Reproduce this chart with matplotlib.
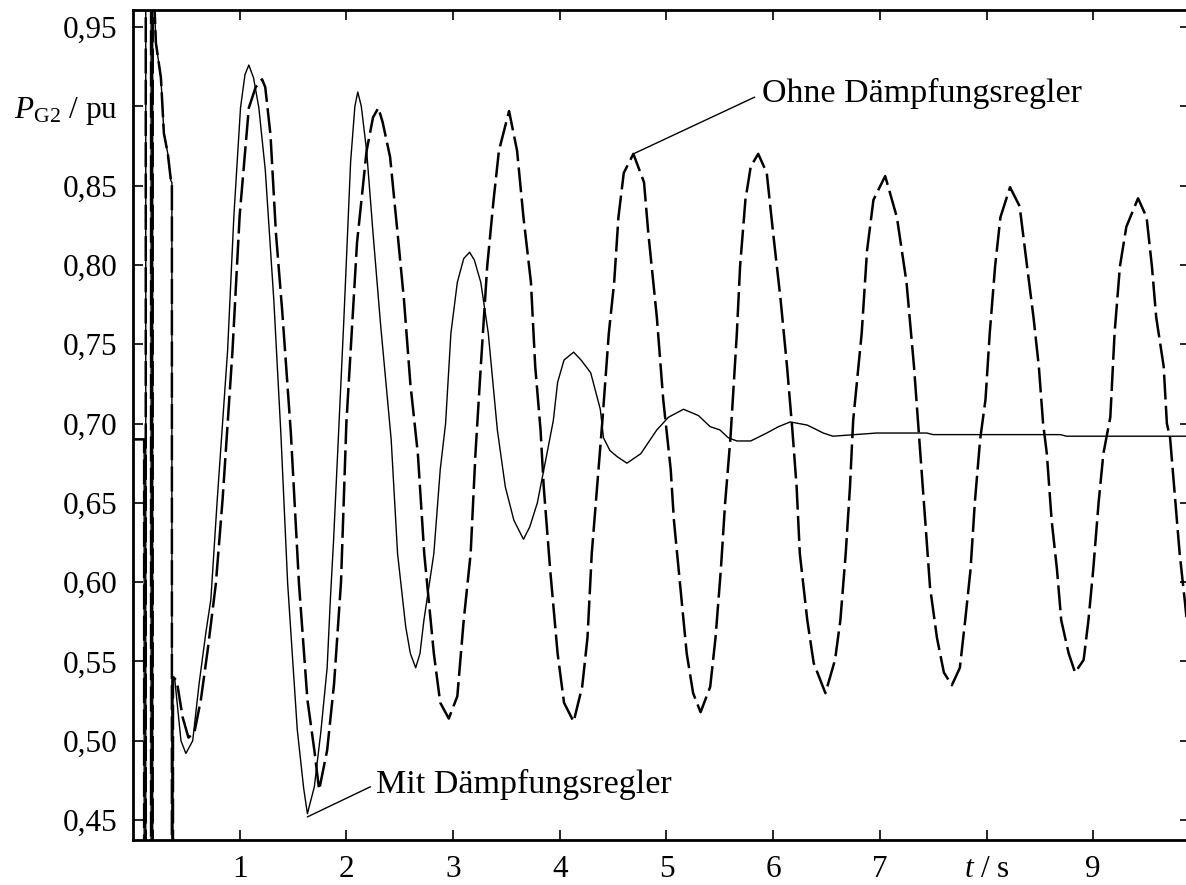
import matplotlib
matplotlib.use('Agg')
import matplotlib.pyplot as plt

plt.rcParams['font.family'] = 'Liberation Serif'
plt.rcParams['mathtext.fontset'] = 'custom'
plt.rcParams['mathtext.rm'] = 'Liberation Serif'
plt.rcParams['mathtext.it'] = 'Liberation Serif:italic'

# ---------------- Daten ----------------
# Fehlerphase (beide Varianten identisch), Werte ausserhalb des Bereichs = Ausschlag
t_fehler = [0.0, 0.10, 0.105, 0.105, 0.12, 0.12, 0.17, 0.17, 0.185, 0.185,
            0.195, 0.215, 0.262, 0.29, 0.327, 0.356, 0.365, 0.365, 0.375, 0.375]
p_fehler = [0.69, 0.69, 0.69, 0.30, 0.30, 1.30, 1.30, 0.30, 0.30, 1.00,
            0.975, 0.94, 0.918, 0.883, 0.87, 0.853, 0.852, 0.30, 0.30, 0.54]

# mit Daempfungsregler
t_mit = [0.39, 0.45, 0.496, 0.56, 0.62, 0.683, 0.73, 0.79, 0.887, 0.946, 1.008, 1.05, 1.086,
         1.13, 1.18, 1.24, 1.32, 1.386, 1.45, 1.54, 1.60, 1.635, 1.70, 1.76, 1.82, 1.85,
         1.88, 1.975, 2.04, 2.08, 2.107, 2.14, 2.19, 2.25, 2.32, 2.42, 2.48, 2.556, 2.60,
         2.65, 2.69, 2.727, 2.82, 2.88, 2.93, 2.98, 3.04, 3.10, 3.155, 3.20, 3.26, 3.33,
         3.415, 3.49, 3.57, 3.66, 3.72, 3.79, 3.88, 3.94, 3.98, 4.04, 4.13, 4.20, 4.29,
         4.38, 4.41, 4.47, 4.54, 4.63, 4.76, 4.91, 5.02, 5.16, 5.30, 5.41, 5.50, 5.58,
         5.66, 5.79, 5.94, 6.05, 6.16, 6.32, 6.47, 6.56, 6.97, 7.44, 7.50, 8.69, 8.75,
         9.41, 9.90]
p_mit = [0.54, 0.50, 0.492, 0.50, 0.536, 0.568, 0.589, 0.652, 0.746, 0.831, 0.899, 0.92, 0.926,
         0.918, 0.899, 0.86, 0.778, 0.694, 0.599, 0.507, 0.47, 0.454, 0.471, 0.505, 0.546, 0.589,
         0.626, 0.763, 0.865, 0.90, 0.909, 0.90, 0.872, 0.82, 0.763, 0.69, 0.618, 0.572, 0.555,
         0.546, 0.555, 0.576, 0.618, 0.671, 0.70, 0.757, 0.789, 0.804, 0.808, 0.803, 0.789, 0.757,
         0.696, 0.66, 0.639, 0.627, 0.635, 0.65, 0.681, 0.702, 0.726, 0.74, 0.745, 0.74, 0.732,
         0.709, 0.691, 0.683, 0.679, 0.675, 0.681, 0.696, 0.704, 0.709, 0.705, 0.698, 0.696, 0.691,
         0.689, 0.689, 0.694, 0.698, 0.701, 0.699, 0.694, 0.692, 0.694, 0.694, 0.693, 0.693, 0.692,
         0.692, 0.692]

# ohne Daempfungsregler
t_ohne = [0.41, 0.465, 0.52, 0.575, 0.637, 0.70, 0.777, 0.84, 0.933, 1.00, 1.086, 1.15, 1.21,
          1.24, 1.289, 1.34, 1.40, 1.48, 1.556, 1.635, 1.70, 1.745, 1.82, 1.885, 1.95, 2.00,
          2.10, 2.19, 2.25, 2.30, 2.34, 2.41, 2.48, 2.54, 2.60, 2.67, 2.73, 2.82, 2.88, 2.96,
          3.04, 3.10, 3.165, 3.21, 3.26, 3.32, 3.38, 3.43, 3.525, 3.60, 3.66, 3.73, 3.77,
          3.82, 3.85, 3.91, 3.98, 4.04, 4.13, 4.21, 4.26, 4.30, 4.35, 4.40, 4.46, 4.51, 4.55,
          4.60, 4.69, 4.79, 4.83, 4.91, 4.97, 5.04, 5.07, 5.13, 5.19, 5.25, 5.32, 5.41, 5.46,
          5.51, 5.55, 5.60, 5.66, 5.69, 5.74, 5.79, 5.86, 5.94, 6.00, 6.07, 6.13, 6.18, 6.22,
          6.25, 6.32, 6.38, 6.49, 6.58, 6.63, 6.68, 6.72, 6.75, 6.83, 6.88, 6.94, 7.05, 7.16,
          7.25, 7.32, 7.38, 7.425, 7.47, 7.535, 7.60, 7.675, 7.75, 7.80, 7.85, 7.89, 7.94,
          7.99, 8.03, 8.08, 8.13, 8.22, 8.31, 8.38, 8.44, 8.49, 8.53, 8.565, 8.61, 8.66, 8.70,
          8.77, 8.83, 8.91, 8.955, 9.00, 9.05, 9.095, 9.16, 9.20, 9.25, 9.31, 9.42, 9.50, 9.55,
          9.59, 9.66, 9.69, 9.72, 9.77, 9.81, 9.86, 9.90]
p_ohne = [0.538, 0.515, 0.502, 0.505, 0.526, 0.557, 0.599, 0.652, 0.746, 0.831, 0.899, 0.912, 0.917,
          0.912, 0.882, 0.82, 0.77, 0.694, 0.599, 0.526, 0.494, 0.469, 0.494, 0.536, 0.60, 0.70,
          0.814, 0.872, 0.893, 0.899, 0.89, 0.868, 0.82, 0.778, 0.725, 0.681, 0.618, 0.555, 0.524, 0.514,
          0.528, 0.576, 0.618, 0.681, 0.736, 0.799, 0.841, 0.872, 0.897, 0.872, 0.83, 0.789, 0.736,
          0.696, 0.66, 0.608, 0.555, 0.524, 0.512, 0.534, 0.565, 0.618, 0.66, 0.702, 0.757, 0.789, 0.83,
          0.858, 0.87, 0.852, 0.82, 0.767, 0.715, 0.671, 0.639, 0.597, 0.555, 0.53, 0.518, 0.534, 0.565,
          0.608, 0.65, 0.691, 0.757, 0.799, 0.841, 0.862, 0.870, 0.858, 0.82, 0.778, 0.736, 0.696, 0.66,
          0.618, 0.576, 0.549, 0.53, 0.551, 0.576, 0.618, 0.66, 0.702, 0.757, 0.809, 0.841, 0.856, 0.83,
          0.789, 0.736, 0.681, 0.639, 0.597, 0.565, 0.543, 0.535, 0.546, 0.576, 0.608, 0.65, 0.69,
          0.715, 0.757, 0.799, 0.83, 0.849, 0.837, 0.799, 0.767, 0.736, 0.70, 0.681, 0.639, 0.608, 0.576,
          0.555, 0.543, 0.551, 0.576, 0.608, 0.65, 0.681, 0.704, 0.757, 0.799, 0.824, 0.842, 0.83, 0.799,
          0.767, 0.736, 0.70, 0.691, 0.65, 0.618, 0.587, 0.56]

x_ticks = [1, 2, 3, 4, 5, 6, 7, 8, 9]
x_labels = ['1', '2', '3', '4', '5', '6', '7', r'$t$ / s', '9']
y_ticks = [0.45, 0.50, 0.55, 0.60, 0.65, 0.70, 0.75, 0.80, 0.85, 0.90, 0.95]
y_labels = ['0,45', '0,50', '0,55', '0,60', '0,65', '0,70', '0,75', '0,80', '0,85',
            r'$P_{\mathrm{G2}}$ / pu', '0,95']

# ---------------- Plot ----------------
fig = plt.figure(figsize=(11.86, 8.85), dpi=100)
ax = fig.add_axes([0.1121, 0.0508, 0.8912, 0.9379])

ax.plot(t_fehler + t_mit, p_fehler + p_mit, color='black', lw=1.0)
ax.plot(t_fehler + t_ohne, p_fehler + p_ohne, color='black', lw=1.8,
        linestyle=(0, (10, 2.5)))

ax.set_xlim(0, 9.906)
ax.set_ylim(0.4374, 0.9607)
ax.set_xticks(x_ticks)
ax.set_xticklabels(x_labels)
ax.set_yticks(y_ticks)
ax.set_yticklabels(y_labels)
ax.tick_params(direction='in', length=7, width=1.2, top=True, right=True,
               labelsize=22.5, pad=11)
for s in ax.spines.values():
    s.set_linewidth(2)

ax.annotate('Ohne Dämpfungsregler', xy=(4.69, 0.870), xytext=(5.90, 0.9027),
            fontsize=24.5, ha='left', va='baseline',
            arrowprops=dict(arrowstyle='-', color='black', lw=1.0,
                            relpos=(0, 0.5), shrinkA=4, shrinkB=0))
ax.annotate('Mit Dämpfungsregler', xy=(1.635, 0.452), xytext=(2.275, 0.4672),
            fontsize=24.5, ha='left', va='baseline',
            arrowprops=dict(arrowstyle='-', color='black', lw=1.0,
                            relpos=(0, 0.5), shrinkA=2, shrinkB=0))

fig.savefig('out.png', dpi=100)
